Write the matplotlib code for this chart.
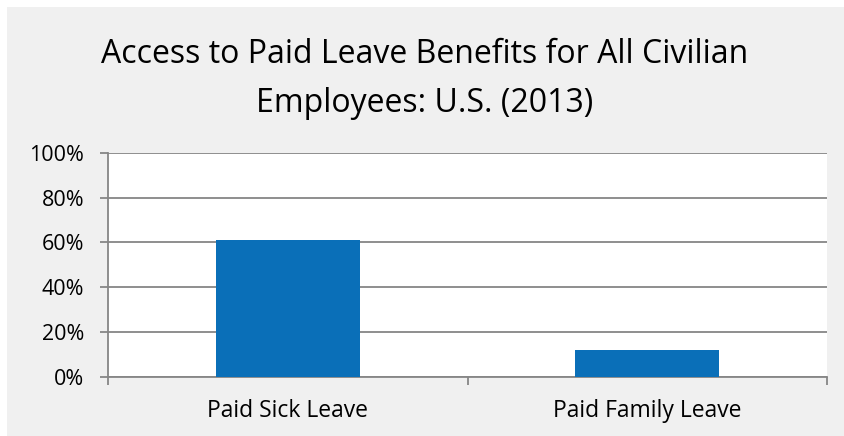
import matplotlib
matplotlib.use("Agg")
import matplotlib.pyplot as plt
from matplotlib.patches import Rectangle
from matplotlib.ticker import PercentFormatter, FixedLocator

categories = ["Paid Sick Leave", "Paid Family Leave"]
values = [61, 12]
yticks = [0, 20, 40, 60, 80, 100]
title_lines = ["Access to Paid Leave Benefits for All Civilian", "Employees: U.S. (2013)"]

plt.rcParams['font.family'] = ['Open Sans', 'DejaVu Sans']

W, H = 844, 436
fig = plt.figure(figsize=(W / 100, H / 100), dpi=100)
fig.patch.set_facecolor('white')
fig.patches.append(Rectangle((7 / W, 0), 1 - 7 / W, 1 - 7 / H, transform=fig.transFigure,
                             facecolor='#f0f0f0', edgecolor='none', zorder=-10))

ax = fig.add_axes([108 / W, 1 - 376.5 / H, (827 - 108) / W, (376.5 - 153) / H])
ax.set_facecolor('white')
x = list(range(len(categories)))
ax.bar(x, values, width=0.4, color='#0a6fb8', zorder=3)
ax.set_xlim(-0.5, len(categories) - 0.5)
ax.set_ylim(0, 100)
ax.set_yticks(yticks)
ax.yaxis.set_major_formatter(PercentFormatter(decimals=0))
ax.grid(axis='y', color='#868686', linewidth=1.3, zorder=0)
ax.set_xticks(x)
ax.set_xticklabels(categories, fontsize=16.5)
ax.xaxis.set_minor_locator(FixedLocator([-0.5, 0.5, 1.5]))
ax.tick_params(axis='x', which='major', length=0, pad=16)
ax.tick_params(axis='x', which='minor', length=6, width=1.3, color='#868686')
ax.tick_params(axis='y', length=6, width=1.3, color='#868686', labelsize=15.5, pad=11)
for s in ['top', 'right']:
    ax.spines[s].set_visible(False)
for s in ['left', 'bottom']:
    ax.spines[s].set_color('#868686')
    ax.spines[s].set_linewidth(1.3)

for line, yb in zip(title_lines, [63, 112]):
    fig.text(425 / W, 1 - yb / H, line, ha='center', va='baseline', fontsize=23, color='black')

fig.savefig('out.png', dpi=100)
